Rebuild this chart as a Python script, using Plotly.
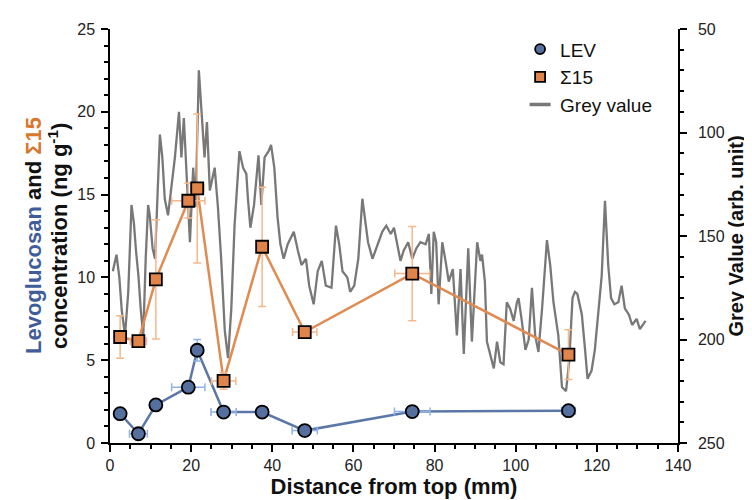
import plotly.graph_objects as go

# ---- data ----
distance = [2.5, 7.0, 11.3, 19.3, 21.5, 28.0, 37.5, 48.0, 74.5, 113.0]
lev = [1.77, 0.56, 2.3, 3.37, 5.6, 1.87, 1.87, 0.75, 1.9, 1.95]
lev_err_y = [0.15, 0.15, 0.15, 0.15, 0.65, 0.15, 0.15, 0.15, 0.3, 0.15]
lev_err_x = [0, 2.2, 0, 4.1, 1.5, 3.1, 0, 3.1, 4.4, 1.7]
s15 = [6.4, 6.15, 9.88, 14.63, 15.37, 3.75, 11.85, 6.7, 10.23, 5.34]
s15_err_y = [1.28, 0.3, 3.6, 1.05, 4.5, 0.5, 3.6, 0.3, 2.85, 1.5]
s15_err_x = [0, 2.0, 1.2, 4.1, 1.6, 3.0, 0, 3.0, 4.3, 0]

grey_x = [0.7, 1.6, 2.3, 2.9, 3.7, 4.5, 5.3, 5.9, 6.4, 7.0, 7.6, 8.2, 8.8, 9.4, 9.8,
          10.5, 11.1, 11.7, 12.3, 12.9, 13.5, 14.3, 15.2, 16.0, 17.0, 17.6, 18.2, 18.8,
          19.7, 20.5, 21.1, 21.9, 22.8, 23.3, 23.9, 24.6, 25.8, 26.6, 27.4, 28.3, 29.1,
          29.9, 30.7, 31.9, 32.8, 33.6, 34.0, 34.6, 35.5, 36.6, 37.3, 38.1, 39.1, 39.7,
          40.5, 41.3, 42.0, 42.8, 43.8, 44.6, 45.3, 46.3, 47.2, 48.3, 49.1, 50.2, 51.2,
          52.2, 53.2, 54.6, 55.7, 56.5, 57.3, 58.5, 59.2, 60.2, 61.2, 62.2, 62.8, 63.6,
          64.7, 65.9, 67.1, 68.1, 69.2, 70.0, 70.8, 71.6, 72.4, 73.5, 74.5, 75.5, 76.5,
          77.8, 78.6, 79.2, 79.8, 80.4, 81.0, 81.9, 82.7, 83.5, 84.5, 85.5, 86.4, 87.2,
          88.3, 89.2, 90.5, 91.3, 91.7, 92.4, 92.9, 93.7, 94.6, 95.4, 96.2, 97.0, 97.8,
          98.6, 99.5, 100.3, 100.7, 101.5, 102.4, 103.2, 104.0, 104.8, 105.6, 106.5,
          107.7, 108.5, 109.3, 110.5, 111.4, 112.4, 113.2, 114.0, 114.6, 115.2, 116.3,
          117.1, 117.7, 118.7, 119.5, 120.4, 121.2, 122.0, 122.4, 122.8, 123.5, 124.3,
          125.3, 126.1, 126.9, 127.9, 128.7, 129.8, 130.6, 132.0]
grey_y = [167, 159, 170, 186, 198, 177, 135, 144, 157, 169, 186, 198, 161, 135, 140,
          156, 161, 128, 101, 112, 132, 140, 125, 112, 90, 112, 93, 120,
          153, 117, 136, 70, 96, 112, 95, 128, 117, 136, 161, 196, 209,
          185, 145, 109, 117, 120, 132, 146, 135, 111, 135, 112, 109, 106,
          117, 141, 154, 161, 154, 151, 148, 157, 164, 161, 174, 183, 167,
          162, 174, 175, 145, 154, 167, 170, 177, 174, 161, 132, 141, 153,
          161, 154, 148, 145, 149, 146, 154, 162, 157, 153, 161, 156, 153,
          154, 149, 178, 148, 153, 183, 153, 162, 172, 166, 198, 166, 207,
          156, 201, 153, 162, 159, 172, 201, 207, 214, 201, 211, 212, 182,
          185, 191, 182, 180, 191, 205, 200, 175, 198, 206, 185,
          152, 164, 182, 198, 223, 225, 210, 180, 177, 178, 188,
          205, 219, 215, 205, 186, 169, 133, 148, 164, 180, 183,
          182, 174, 185, 188, 193, 190, 195, 191]

x_ticks = [0, 20, 40, 60, 80, 100, 120, 140]

# ---- styles ----
FONT = "Arial, Liberation Sans, sans-serif"
LEV_FILL = "#55709f"
LEV_LINE = "#5b77a8"
LEV_ERR = "#8fb3e6"
S15_FILL = "#e0844a"
S15_LINE = "#e08b52"
S15_ERR = "#f5b88c"
GREY = "#787878"

fig = go.Figure()

# grey value (right axis, drawn beneath)
fig.add_trace(go.Scatter(x=grey_x, y=grey_y, mode="lines", showlegend=False,
                         line=dict(color=GREY, width=2.3), yaxis="y"))

# connecting lines
fig.add_trace(go.Scatter(x=distance, y=s15, mode="lines", showlegend=False,
                         line=dict(color=S15_LINE, width=2.5), yaxis="y2"))
fig.add_trace(go.Scatter(x=distance, y=lev, mode="lines", showlegend=False,
                         line=dict(color=LEV_LINE, width=2.5), yaxis="y2"))

# markers with error bars
fig.add_trace(go.Scatter(
    x=distance, y=s15, mode="markers", showlegend=False, yaxis="y2",
    marker=dict(symbol="square", size=12, color=S15_FILL, line=dict(color="black", width=1.8)),
    error_y=dict(type="data", array=s15_err_y, color=S15_ERR, thickness=1.5, width=4),
    error_x=dict(type="data", array=s15_err_x, color=S15_ERR, thickness=1.5, width=4)))
fig.add_trace(go.Scatter(
    x=distance, y=lev, mode="markers", showlegend=False, yaxis="y2",
    marker=dict(symbol="circle", size=13, color=LEV_FILL, line=dict(color="black", width=1.8)),
    error_y=dict(type="data", array=lev_err_y, color=LEV_ERR, thickness=1.5, width=4),
    error_x=dict(type="data", array=lev_err_x, color=LEV_ERR, thickness=1.5, width=4)))

# legend entries (compact symbols like the reference)
fig.add_trace(go.Scatter(x=[None], y=[None], mode="markers", name="LEV", yaxis="y2",
                         marker=dict(symbol="circle", size=10, color=LEV_FILL,
                                     line=dict(color="black", width=1.8))))
fig.add_trace(go.Scatter(x=[None], y=[None], mode="markers", name="Σ15", yaxis="y2",
                         marker=dict(symbol="square", size=10, color=S15_FILL,
                                     line=dict(color="black", width=1.8))))
fig.add_trace(go.Scatter(x=[None], y=[None], mode="markers", name="Grey value", yaxis="y2",
                         marker=dict(symbol="line-ew", size=15, color=GREY,
                                     line=dict(color=GREY, width=3.5))))

axis_common = dict(showgrid=False, zeroline=False, showline=True, linecolor="black",
                   linewidth=1.5, ticks="outside", ticklen=7, tickwidth=1.5,
                   tickcolor="black", tickfont=dict(size=16, color="#222", family=FONT))
minor_common = dict(ticks="outside", ticklen=4, tickwidth=1.5, tickcolor="black")

fig.update_layout(
    width=752, height=500,
    margin=dict(l=102, r=82, t=21, b=65),
    paper_bgcolor="white", plot_bgcolor="white",
    font=dict(family=FONT, color="#111"),
    xaxis=dict(range=[0, 140], tickvals=x_ticks, minor=dict(dtick=5, **minor_common),
               title=dict(text="<b>Distance from top (mm)</b>", font=dict(size=22, family=FONT),
                          standoff=6),
               **axis_common),
    yaxis=dict(range=[250, 50], side="right", dtick=50, minor=dict(dtick=10, **minor_common),
               ticklabelstandoff=8,
               title=dict(text="<b>Grey Value (arb. unit)</b>", font=dict(size=20, family=FONT),
                          standoff=2),
               **axis_common),
    yaxis2=dict(range=[0, 25], side="left", overlaying="y", dtick=5,
                minor=dict(dtick=1, **minor_common), ticklabelstandoff=3,
                **axis_common),
    legend=dict(x=0.722, y=0.997, xanchor="left", yanchor="top",
                font=dict(size=19, family=FONT, color="#111"),
                bgcolor="rgba(0,0,0,0)"),
    showlegend=True,
    annotations=[
        dict(text="<b><span style='color:#3f5d99'>Levoglucosan</span> and "
                  "<span style='color:#d8782f'>Σ15</span></b>",
             xref="paper", yref="paper", x=0, y=0.5, xanchor="center", yanchor="middle",
             xshift=-77, textangle=-90, showarrow=False,
             font=dict(size=22, family=FONT, color="#111")),
        dict(text="<b>concentration (ng g<sup>-1</sup>)</b>",
             xref="paper", yref="paper", x=0, y=0.5, xanchor="center", yanchor="middle",
             xshift=-52, textangle=-90, showarrow=False,
             font=dict(size=22, family=FONT, color="#111")),
    ],
)

fig.write_html("out.html")
